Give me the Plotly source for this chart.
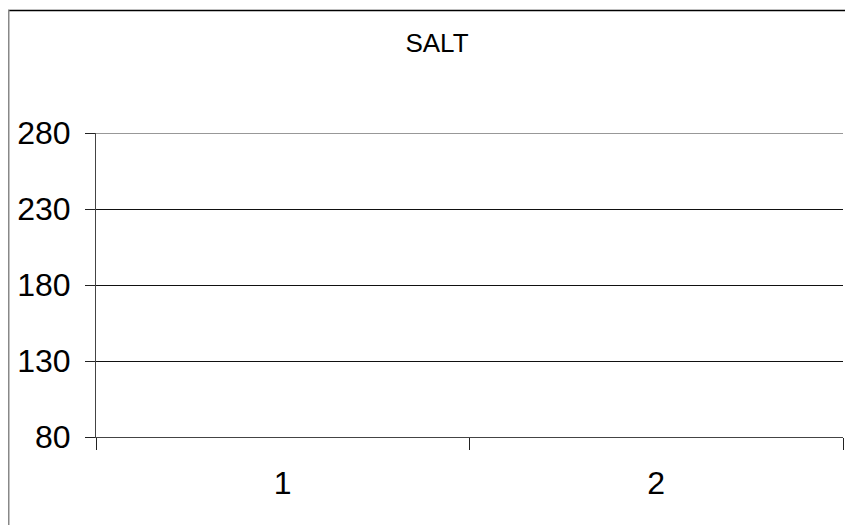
import plotly.graph_objects as go

# Data
categories = ["1", "2"]
salt_values = [None, None]  # no visible data points in the reference
y_ticks = [80, 130, 180, 230, 280]
title_text = "SALT"

# The page body has an 8px margin, so the figure is drawn 8px in from the
# window's top-left corner; size it so it fills the remaining window.
OFF = 8
W, H = 853 - OFF, 525 - OFF
L, R, T, B = 96 - OFF, 10, 133 - OFF, 88
pw, ph = W - L - R, H - T - B

FONT = "Liberation Sans, Arial, sans-serif"

fig = go.Figure()
fig.add_trace(go.Scatter(x=categories, y=salt_values, mode="lines+markers",
                         line=dict(color="#000080"), showlegend=False))

fig.update_layout(
    width=W, height=H,
    margin=dict(l=L, r=R, t=T, b=B, pad=0),
    paper_bgcolor="white", plot_bgcolor="white",
    font=dict(family=FONT, color="black"),
    title=dict(text=title_text, x=(437 - OFF) / W, xanchor="center",
               y=1 - (43 - OFF) / H, yanchor="middle",
               font=dict(family=FONT, size=26, color="black")),
    showlegend=False,
)

fig.update_xaxes(
    type="category", categoryorder="array", categoryarray=categories,
    range=[-0.5, 1.5], tickson="boundaries",
    ticks="outside", ticklen=12, tickwidth=1, tickcolor="#222",
    showline=True, linecolor="#444", linewidth=1,
    showgrid=False, zeroline=False,
    tickfont=dict(family=FONT, size=32, color="black"),
    ticklabelstandoff=18,
)

fig.update_yaxes(
    range=[80, 280], tickvals=y_ticks, ticktext=[str(v) for v in y_ticks],
    ticks="outside", ticklen=10, tickwidth=1, tickcolor="#222",
    showline=True, linecolor="#444", linewidth=1,
    showgrid=True, gridcolor="#111", gridwidth=1,
    zeroline=False,
    tickfont=dict(family=FONT, size=32, color="black"),
    ticklabelstandoff=8,
)

# Top gridline (at the range edge plotly omits it)
fig.add_shape(type="line", xref="paper", yref="y",
              x0=0, x1=1, y0=y_ticks[-1], y1=y_ticks[-1],
              line=dict(color="#333", width=1))

# Outer chart-area border (extends beyond the right/bottom edges)
def px_x(p):
    return (p - OFF - L) / pw

def px_y(p):
    return 1 - (p - OFF - T) / ph

fig.add_shape(type="line", xref="paper", yref="paper",
              x0=px_x(8), x1=px_x(860), y0=px_y(10.5), y1=px_y(10.5),
              line=dict(color="black", width=1.5))
fig.add_shape(type="line", xref="paper", yref="paper",
              x0=px_x(8.5), x1=px_x(8.5), y0=px_y(10), y1=px_y(530),
              line=dict(color="#888", width=2))

fig.write_html("out.html")
